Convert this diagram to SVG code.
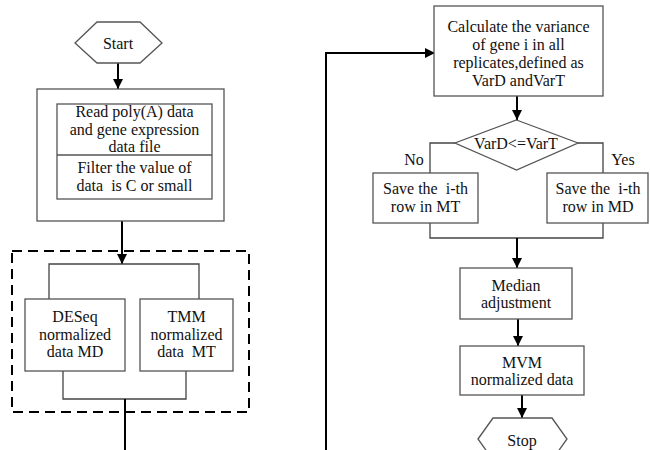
<svg xmlns="http://www.w3.org/2000/svg" width="650" height="450" viewBox="0 0 650 450">
<defs>
<marker id="ah" viewBox="0 0 10 10" refX="10" refY="5" markerWidth="10" markerHeight="10" markerUnits="userSpaceOnUse" orient="auto">
<path d="M0,0 L10,5 L0,10 Z" fill="#000"/>
</marker>
<style>
.box{fill:#fff;stroke:#555;stroke-width:1.3}
.thin{fill:none;stroke:#444;stroke-width:1.3}
.conn{fill:none;stroke:#000;stroke-width:2}
.dash{fill:none;stroke:#000;stroke-width:2;stroke-dasharray:10,6}
.t{font-family:'Liberation Serif','DejaVu Serif',serif;font-size:16px;fill:#111;text-anchor:middle}
</style>
</defs>
<rect width="650" height="450" fill="#fff"/>

<g id="connectors">
<line class="conn" x1="118" y1="63" x2="118" y2="89" marker-end="url(#ah)"/>
<line class="conn" x1="122" y1="221" x2="122" y2="264" marker-end="url(#ah)"/>
<polyline class="thin" points="49,299 49,264 199,264 199,299"/>
<polyline class="thin" points="63,371 63,399 186,399 186,371"/>
<line class="conn" x1="125" y1="399" x2="125" y2="450"/>
<polyline class="conn" points="326,450 326,53 435,53" marker-end="url(#ah)"/>
<line class="conn" x1="517" y1="96" x2="517" y2="120" marker-end="url(#ah)"/>
<polyline class="thin" points="455,143 430,143 430,173"/>
<polyline class="thin" points="578,143 603,143 603,173"/>
<polyline class="thin" points="430,223 430,238 603,238 603,223"/>
<line class="conn" x1="517" y1="238" x2="517" y2="268" marker-end="url(#ah)"/>
<line class="conn" x1="518" y1="319" x2="518" y2="346" marker-end="url(#ah)"/>
<line class="conn" x1="522" y1="395" x2="522" y2="418" marker-end="url(#ah)"/>
</g>

<g font-family="Liberation Serif, DejaVu Serif, serif">
<g id="start">
<polygon class="box" points="75,43 97,22 140,22 162,43 140,63 97,63"/>
<text class="t" x="118" y="48.5" font-size="17">Start</text>
</g>

<g id="read-filter">
<rect class="box" x="37" y="89" width="187" height="132"/>
<rect class="box" x="57" y="104" width="155" height="95"/>
<line class="box" x1="57" y1="155" x2="212" y2="155"/>
<text class="t" x="134.5" y="117">Read poly(A) data</text>
<text class="t" x="134.5" y="134.5">and gene expression</text>
<text class="t" x="134.5" y="152">data file</text>
<text class="t" x="134.5" y="173">Filter the value of</text>
<text class="t" x="134.5" y="191" xml:space="preserve">data  is C or small</text>
</g>

<g id="normalization-group">
<rect class="dash" x="12" y="251" width="237" height="161"/>
</g>

<g id="deseq">
<rect class="box" x="25" y="299" width="100" height="72"/>
<text class="t" x="75" y="322">DESeq</text>
<text class="t" x="75" y="339.5">normalized</text>
<text class="t" x="75" y="357">data MD</text>
</g>

<g id="tmm">
<rect class="box" x="140" y="299" width="93" height="72"/>
<text class="t" x="186.5" y="322">TMM</text>
<text class="t" x="186.5" y="339.5">normalized</text>
<text class="t" x="186.5" y="357" xml:space="preserve">data  MT</text>
</g>

<g id="calculate">
<rect class="box" x="434" y="6" width="169" height="90"/>
<text class="t" x="518.5" y="32">Calculate the variance</text>
<text class="t" x="518.5" y="50">of gene i in all</text>
<text class="t" x="518.5" y="68">replicates,defined as</text>
<text class="t" x="518.5" y="86">VarD andVarT</text>
</g>

<g id="decision">
<polygon class="box" points="516.5,120 578,143 516.5,170 455,143"/>
<text class="t" x="516" y="148.5" font-size="17">VarD&lt;=VarT</text>
<text class="t" x="414" y="164.5" font-size="17">No</text>
<text class="t" x="623" y="164.5" font-size="17">Yes</text>
</g>

<g id="save-mt">
<rect class="box" x="373" y="173" width="105" height="50"/>
<text class="t" x="425.5" y="193.5" xml:space="preserve">Save the  i-th</text>
<text class="t" x="425.5" y="211.5">row in MT</text>
</g>

<g id="save-md">
<rect class="box" x="547" y="173" width="101" height="50"/>
<text class="t" x="598" y="193.5" xml:space="preserve">Save the  i-th</text>
<text class="t" x="598" y="211.5">row in MD</text>
</g>

<g id="median">
<rect class="box" x="460" y="268" width="112" height="51"/>
<text class="t" x="516" y="290.5">Median</text>
<text class="t" x="516" y="308">adjustment</text>
</g>

<g id="mvm">
<rect class="box" x="460" y="346" width="124" height="49"/>
<text class="t" x="522" y="367.5">MVM</text>
<text class="t" x="522" y="385">normalized data</text>
</g>

<g id="stop">
<polygon class="box" points="478,439 493,418 552,418 567,439 552,460 493,460"/>
<text class="t" x="522" y="445.5" font-size="17">Stop</text>
</g>
</g>
</svg>
